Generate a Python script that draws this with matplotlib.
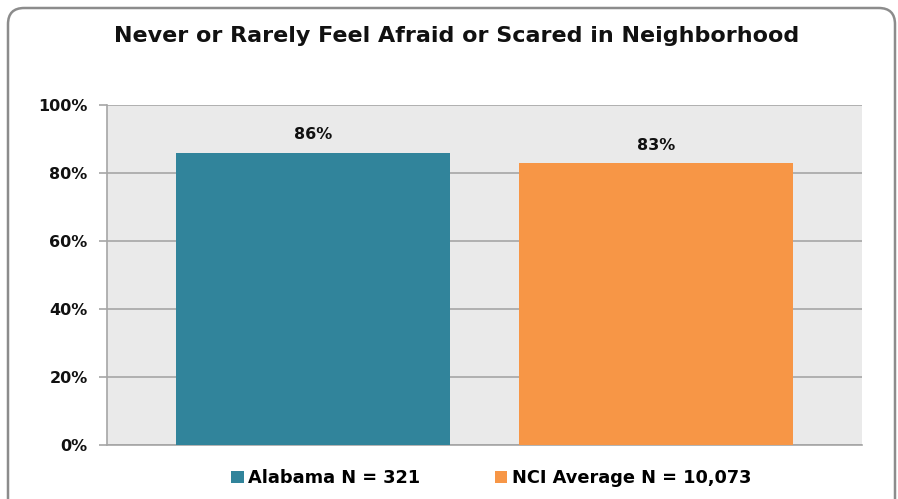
import matplotlib.pyplot as plt
from matplotlib.patches import FancyBboxPatch
from matplotlib.ticker import FuncFormatter

groups = ["Alabama N = 321", "NCI Average N = 10,073"]
values = [86, 83]
colors = ["#31849B", "#F79646"]
title = "Never or Rarely Feel Afraid or Scared in Neighborhood"

plt.rcParams["font.family"] = ["DejaVu Sans"]
plt.rcParams["font.weight"] = "bold"

fig = plt.figure(figsize=(8.98, 4.99), dpi=100)

# rounded frame around the chart
frame = FancyBboxPatch(
    (8 / 898, -0.05), 887 / 898, 1 - 8 / 499 + 0.05,
    boxstyle="round,pad=0,rounding_size=0.018",
    transform=fig.transFigure, facecolor="white", edgecolor="#8C8C8C",
    linewidth=1.8, mutation_aspect=898 / 499, zorder=-10,
)
fig.patches.append(frame)

ax = fig.add_axes([107 / 898, 1 - 445 / 499, 755 / 898, 340 / 499])
ax.set_facecolor("#EAEAEA")

x = range(len(values))
bars = ax.bar(x, values, width=0.8, color=colors, label=groups, zorder=3)
for b, v in zip(bars, values):
    ax.text(b.get_x() + b.get_width() / 2, v + 3, f"{v}%", ha="center",
            va="bottom", fontsize=11.5, fontweight="bold", color="#111111")

ax.set_xlim(-0.6, 1.6)
ax.set_ylim(0, 100)
ax.set_yticks(range(0, 101, 20))
ax.yaxis.set_major_formatter(FuncFormatter(lambda v, p: f"{v:.0f}%"))
ax.set_xticks([])
ax.grid(axis="y", color="#A6A6A6", linewidth=1.2, zorder=1)
for s in ["top", "right"]:
    ax.spines[s].set_visible(False)
ax.spines["left"].set_color("#A6A6A6")
ax.spines["bottom"].set_color("#A6A6A6")
ax.spines["left"].set_linewidth(1.2)
ax.spines["bottom"].set_linewidth(1.2)
ax.tick_params(axis="y", length=6, width=1.2, color="#A6A6A6", pad=8,
               labelsize=11.5, labelcolor="#111111")

fig.text(0.508, 1 - 36 / 499, title, ha="center", va="center",
         fontsize=16, fontweight="bold", color="#111111")

fig.legend(handles=bars, labels=groups, loc="center",
           bbox_to_anchor=(0.547, 1 - 478 / 499), ncol=2, frameon=False,
           fontsize=12.8, handlelength=0.7, handleheight=0.7,
           columnspacing=4.2, handletextpad=0.25)

fig.savefig("out.png", dpi=100)
